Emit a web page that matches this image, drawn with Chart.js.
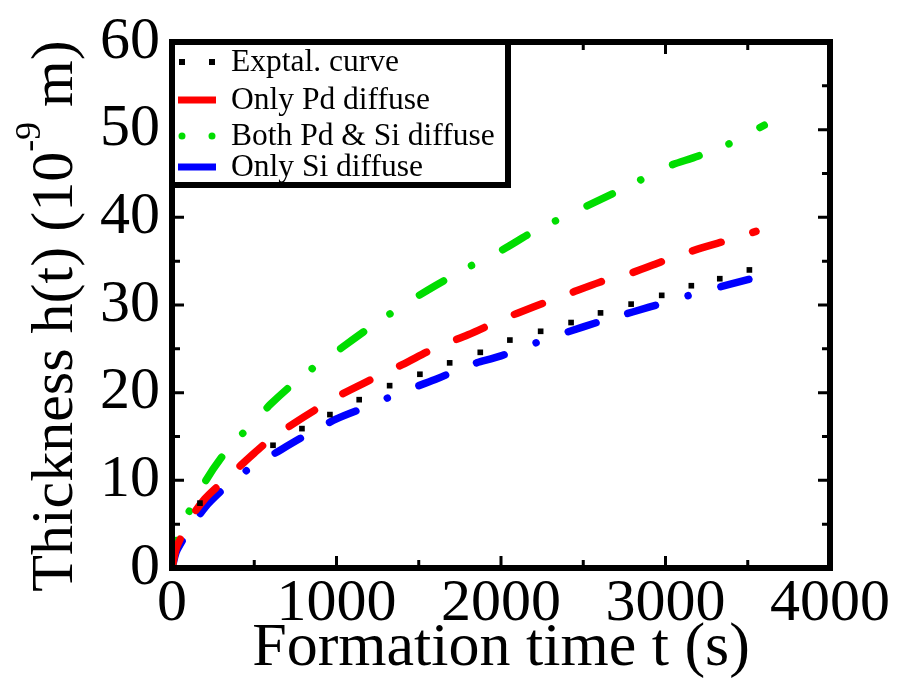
<!DOCTYPE html>
<html><head><meta charset="utf-8">
<script src="https://cdn.jsdelivr.net/npm/chart.js@4.4.0/dist/chart.umd.min.js"></script>
<style>html,body{margin:0;padding:0;background:#fff;}#wrap{width:901px;height:684px;}</style>
</head><body><div id="wrap"><canvas id="c" width="901" height="684"></canvas></div>
<script>
// ---- data ----
const timeModel = [0, 25, 50, 100, 200, 300, 400, 500, 600, 800, 1000, 1200, 1400, 1600, 1800, 2000, 2200, 2400, 2600, 2800, 3000, 3200, 3400, 3600];
const bothPdSi  = [0, 3.0, 4.4, 6.3, 9.8, 12.6, 14.8, 16.6, 18.7, 22.0, 24.7, 27.4, 29.9, 32.2, 34.3, 36.2, 38.4, 40.2, 42.0, 43.8, 45.7, 47.0, 48.5, 50.5];
const onlySi    = [0, 1.8, 2.7, 4.2, 6.9, 8.8, 10.4, 11.7, 12.8, 15.0, 17.0, 18.5, 20.1, 21.5, 23.1, 24.2, 25.6, 26.9, 28.1, 29.2, 30.3, 31.4, 32.4, 33.4];
const timePd    = [0, 25, 50, 100, 200, 300, 400, 500, 600, 800, 1000, 1200, 1400, 1600, 1800, 2000, 2200, 2400, 2600, 2800, 3000, 3200, 3400, 3550];
const onlyPd    = [0, 2.2, 3.3, 5.3, 7.9, 9.7, 11.4, 13.1, 14.7, 17.2, 19.5, 21.4, 23.2, 25.1, 26.6, 28.3, 29.8, 31.2, 32.6, 33.7, 35.1, 36.4, 37.5, 38.4];
const timeExp   = [170, 614, 790, 960, 1138, 1323, 1507, 1688, 1874, 2054, 2241, 2426, 2605, 2791, 2977, 3157, 3330, 3510];
const exptal    = [7.4, 14.0, 15.9, 17.5, 19.2, 20.8, 22.1, 23.4, 24.6, 26.0, 27.0, 28.0, 29.1, 30.1, 31.1, 32.2, 33.0, 34.0];
const seriesNames = ['Exptal. curve', 'Only Pd diffuse', 'Both Pd & Si diffuse', 'Only Si diffuse'];
const xTickLabels = ['0', '1000', '2000', '3000', '4000'];
const yTickLabels = ['0', '10', '20', '30', '40', '50', '60'];
const xTitle = 'Formation time t (s)';
const yTitleMain = 'Thickness h(t) (10';
const yTitleSup = '-9';
const yTitleEnd = ' m)';

const SERIF = '"Liberation Serif", "Times New Roman", serif';
const pts = (xs, ys) => xs.map((x, i) => ({x: x, y: ys[i]}));

const frameTicks = {
  id: 'frameTicks',
  afterDraw(chart) {
    const ctx = chart.ctx, a = chart.chartArea, xs = chart.scales.x, ys = chart.scales.y;
    ctx.save();
    ctx.strokeStyle = '#000';
    ctx.lineWidth = 3;
    ctx.beginPath();
    for (let v = 0; v <= 4000; v += 500) {
      const p = xs.getPixelForValue(v), l = (v % 1000 === 0) ? 12 : 8;
      ctx.moveTo(p, a.bottom); ctx.lineTo(p, a.bottom - l);
      ctx.moveTo(p, a.top); ctx.lineTo(p, a.top + l);
    }
    for (let v = 0; v <= 60; v += 5) {
      const p = ys.getPixelForValue(v), l = (v % 10 === 0) ? 12 : 8;
      ctx.moveTo(a.left, p); ctx.lineTo(a.left + l, p);
      ctx.moveTo(a.right, p); ctx.lineTo(a.right - l, p);
    }
    ctx.stroke();
    ctx.lineWidth = 6;
    ctx.strokeRect(a.left, a.top, a.right - a.left, a.bottom - a.top);

    // legend
    const L = a.left, T = a.top, R = 508, B = 185;
    ctx.fillStyle = '#fff';
    ctx.fillRect(L, T, R - L, B - T);
    ctx.lineWidth = 6;
    ctx.strokeRect(L, T, R - L, B - T);
    const rows = [62, 100, 136, 167];
    const cols = ['#000000', '#ff0000', '#00dd00', '#0000ff'];
    ctx.font = '31.5px ' + SERIF;
    ctx.textBaseline = 'middle';
    ctx.textAlign = 'left';
    rows.forEach((y, i) => {
      ctx.fillStyle = cols[i];
      if (i === 0) { ctx.fillRect(179, y - 3, 6, 6); ctx.fillRect(209, y - 3, 6, 6); }
      else if (i === 2) { ctx.beginPath(); ctx.arc(182, y, 3.5, 0, 7); ctx.arc(212, y, 3.5, 0, 7); ctx.fill(); }
      else { ctx.fillRect(178, y - 3.5, 38, 7); }
      ctx.fillStyle = '#000';
      ctx.fillText(seriesNames[i], 231, y + 1);
    });

    // y title with superscript
    ctx.font = '60px ' + SERIF;
    const w1 = ctx.measureText(yTitleMain).width;
    const w3 = ctx.measureText(yTitleEnd).width;
    ctx.font = '36px ' + SERIF;
    const w2 = ctx.measureText(yTitleSup).width;
    const W = w1 + w2 + w3;
    ctx.translate(72, 316);
    ctx.rotate(-Math.PI / 2);
    ctx.fillStyle = '#000';
    ctx.textBaseline = 'alphabetic';
    ctx.font = '60px ' + SERIF;
    ctx.fillText(yTitleMain, -W / 2, 0);
    ctx.font = '36px ' + SERIF;
    ctx.fillText(yTitleSup, -W / 2 + w1, -32);
    ctx.font = '60px ' + SERIF;
    ctx.fillText(yTitleEnd, -W / 2 + w1 + w2, 0);
    ctx.restore();
  }
};

new Chart(document.getElementById('c'), {
  type: 'scatter',
  data: {
    datasets: [
      { label: seriesNames[0], data: pts(timeExp, exptal), showLine: false,
        pointStyle: 'rect', pointRadius: 4, backgroundColor: '#000', borderColor: '#000', borderWidth: 0 },
      { label: seriesNames[1], data: pts(timePd, onlyPd), showLine: true, pointRadius: 0,
        borderColor: '#ff0000', borderWidth: 7.5, borderCapStyle: 'round', borderDash: [30, 33], tension: 0.3 },
      { label: seriesNames[2], data: pts(timeModel, bothPdSi), showLine: true, pointRadius: 0,
        borderColor: '#00dd00', borderWidth: 7.5, borderCapStyle: 'round', borderDash: [28, 32, 0.01, 35], tension: 0.3 },
      { label: seriesNames[3], data: pts(timeModel, onlySi), showLine: true, pointRadius: 0,
        borderColor: '#0000ff', borderWidth: 7.5, borderCapStyle: 'round', borderDash: [29, 33, 29, 34, 0.01, 34], tension: 0.3 }
    ]
  },
  options: {
    responsive: false,
    animation: false,
    layout: { padding: { left: 0, top: 41, right: 71, bottom: 0 } },
    plugins: { legend: { display: false }, tooltip: { enabled: false } },
    scales: {
      x: {
        type: 'linear', min: 0, max: 4000,
        afterFit(s) { s.height = 116; },
        grid: { display: false, drawTicks: false, tickLength: 0 },
        border: { display: false },
        ticks: { stepSize: 1000, padding: 6, color: '#000', maxRotation: 0,
          font: { family: SERIF, size: 60, lineHeight: 1 },
          callback: (v) => xTickLabels[Math.round(v / 1000)] },
        title: { display: true, text: xTitle, color: '#000', padding: { top: 0, bottom: 4 },
          font: { family: SERIF, size: 62, lineHeight: 1 } }
      },
      y: {
        type: 'linear', min: 0, max: 60,
        afterFit(s) { s.width = 172; },
        grid: { display: false, drawTicks: false, tickLength: 0 },
        border: { display: false },
        ticks: { stepSize: 10, padding: 12, color: '#000',
          font: { family: SERIF, size: 60, lineHeight: 1 },
          callback: (v) => yTickLabels[Math.round(v / 10)] }
      }
    }
  },
  plugins: [frameTicks]
});
</script></body></html>
